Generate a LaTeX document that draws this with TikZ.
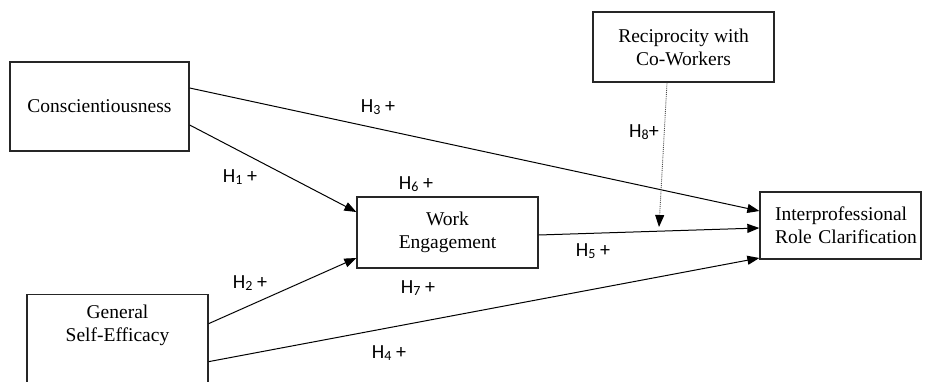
\documentclass[tikz,border=0pt]{standalone}
\usepackage{fontspec}
\setmainfont{Liberation Serif}
\newfontfamily\hypfont{Carlito}
\usetikzlibrary{arrows.meta}
% hypothesis label: H with a lowered, smaller index
\newcommand\hyplabel[1]{H\raisebox{-0.22ex}{\fontsize{14}{14}\selectfont #1}}
\begin{document}
\begin{tikzpicture}[x=1pt,y=1pt,
  construct/.style={draw=black!85, line width=1.3pt, inner sep=0pt, align=center,
    font=\fontsize{19.5}{23}\selectfont},
  boxtext/.style={inner sep=0pt, align=center, font=\fontsize{19.5}{23}\selectfont},
  link/.style={line width=1pt, -{Triangle[length=12pt,width=9pt]}},
  moderator/.style={line width=0.9pt, densely dotted, black!70,
    -{Triangle[length=12pt,width=9pt,color=black]}},
  hyp/.style={inner sep=0pt, font=\hypfont\fontsize{20}{20}\selectfont}
]
\useasboundingbox (0,0) rectangle (927,381);
\clip (0,0) rectangle (927,381);

% constructs
\node[construct, minimum width=179, minimum height=89] (cons) at (99.5,274.5) {Conscientiousness};
\node[construct, minimum width=181, minimum height=70] (recip) at (683.5,334) {Reciprocity with\\Co-Workers};
\node[construct, minimum width=181, minimum height=71] (we) at (447.5,148.5) {Work\\Engagement};
\node[construct, minimum width=161, minimum height=67, text width=131, inner xsep=15pt, align=left]
  (irc) at (840.5,155.5) {Interprofessional\\\mbox{Role Clarification}};
\node[construct, minimum width=181, minimum height=140, anchor=north] (gsebox) at (117.5,87) {};
\node[boxtext] (gse) at (117.5,56) {General\\Self-Efficacy};

% paths
\draw[link] ([yshift=18.5pt]cons.east) -- ([yshift=14.5pt]irc.west);
\draw[link] ([yshift=-18.5pt]cons.east) -- ([yshift=20.5pt]we.west);
\draw[link] ([yshift=41pt]gsebox.east) -- ([yshift=-25.5pt]we.west);
\draw[link] ([yshift=3pt]gsebox.east) -- ([yshift=-32.5pt]irc.west);
\draw[link] ([yshift=-2.5pt]we.east) -- ([yshift=-2.5pt]irc.west);

% moderation
\coordinate (h8tip) at (659,154);
\draw[moderator] ([xshift=-16.5pt]recip.south) -- (h8tip);

% hypothesis labels
\node[hyp] (h1) at (240,204) {\hyplabel{1} +};
\node[hyp] (h2) at (250,98) {\hyplabel{2} +};
\node[hyp] (h3) at (378,274) {\hyplabel{3} +};
\node[hyp] (h4) at (389,28) {\hyplabel{4} +};
\node[hyp] (h5) at (593,130) {\hyplabel{5} +};
\node[hyp] (h6) at (416,197) {\hyplabel{6} +};
\node[hyp] (h7) at (418,93) {\hyplabel{7} +};
\node[hyp] (h8) at (644,249) {\hyplabel{8}+};
\end{tikzpicture}
\end{document}
